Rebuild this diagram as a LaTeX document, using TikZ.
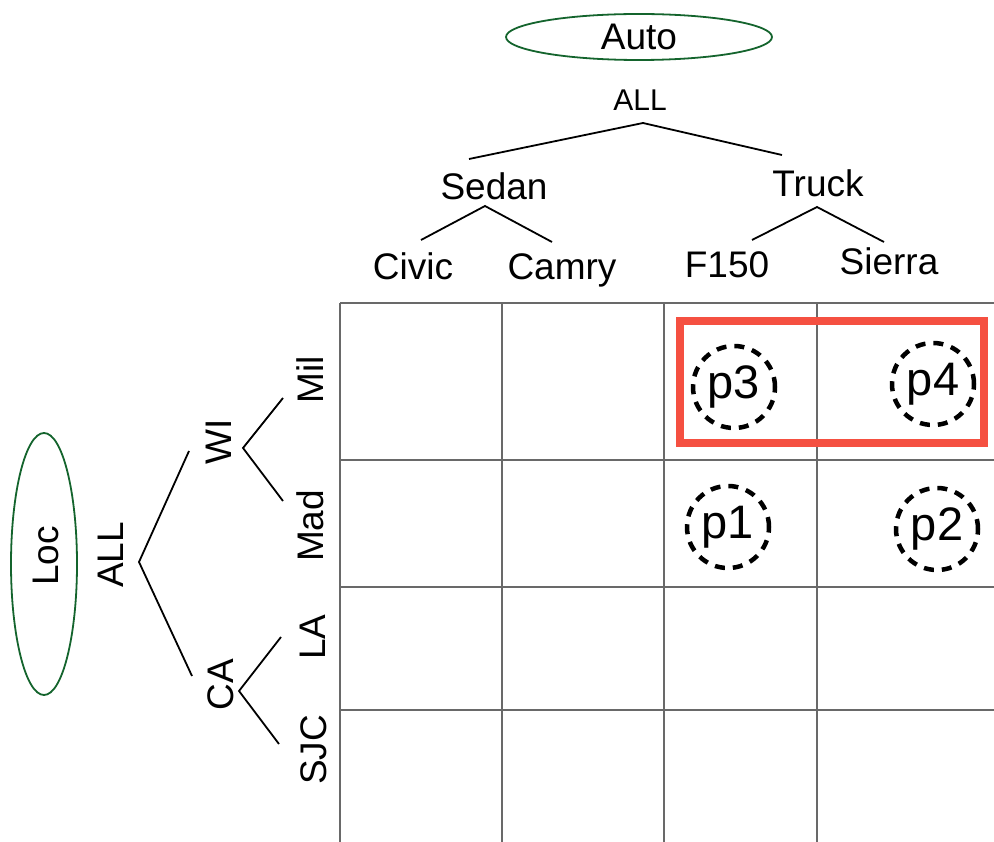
\documentclass[tikz,border=0pt]{standalone}
\usepackage{fontspec}
\setmainfont{Liberation Sans}
\usetikzlibrary{shapes.geometric}
\definecolor{dimgreen}{RGB}{20,100,45}
\definecolor{hlred}{RGB}{245,80,65}
\definecolor{gridgray}{RGB}{105,105,105}
\tikzset{
  lbl/.style={inner sep=0pt, font=\fontsize{37}{40}\selectfont},
  smalllbl/.style={inner sep=0pt, font=\fontsize{30}{34}\selectfont},
  plbl/.style={inner sep=0pt, font=\fontsize{47}{50}\selectfont},
  dimoval/.style={draw=dimgreen, line width=1.8pt, ellipse},
  branch/.style={draw=black, line width=1.8pt},
  gridline/.style={draw=gridgray, line width=2.5pt},
  pcircle/.style={draw=black, circle, line width=4.5pt, dash pattern=on 10pt off 8pt}
}
\begin{document}
\begin{tikzpicture}[x=1pt,y=-1pt]
\useasboundingbox (0,0) rectangle (994,842);
% ---- grid
\coordinate (gv1t) at (340,303); \coordinate (gv1b) at (340,842);
\coordinate (gv2t) at (502,303); \coordinate (gv2b) at (502,842);
\coordinate (gv3t) at (664,303); \coordinate (gv3b) at (664,842);
\coordinate (gv4t) at (817,303); \coordinate (gv4b) at (817,842);
\coordinate (gh1l) at (340,303); \coordinate (gh1r) at (994,303);
\coordinate (gh2l) at (340,460); \coordinate (gh2r) at (994,460);
\coordinate (gh3l) at (340,587); \coordinate (gh3r) at (994,587);
\coordinate (gh4l) at (340,710); \coordinate (gh4r) at (994,710);
\foreach \i in {1,2,3,4} {
  \draw[gridline] (gv\i t) -- (gv\i b);
  \draw[gridline] (gh\i l) -- (gh\i r);
}
% ---- highlight
\draw[draw=hlred, line width=8pt] (680,321) rectangle (984,443);
% ---- points
\node[pcircle, minimum size=82pt, inner sep=0pt] (c3) at (734,387) {};
\node[plbl] (p3) at (734,387) {p3};
\node[pcircle, minimum size=82pt, inner sep=0pt] (c4) at (933,384) {};
\node[plbl] (p4) at (933,384) {p4};
\node[pcircle, minimum size=82pt, inner sep=0pt] (c1) at (728,527) {};
\node[plbl] (p1) at (728,527) {p1};
\node[pcircle, minimum size=82pt, inner sep=0pt] (c2) at (937,529) {};
\node[plbl] (p2) at (937,529) {p2};
% ---- Auto hierarchy
\node[dimoval, minimum width=266pt, minimum height=46pt, inner sep=0pt] (auto) at (639,37) {};
\node[lbl] (autot) at (639,37) {Auto};
\node[smalllbl] (all1) at (640,100) {ALL};
\coordinate (a0) at (643,123);
\coordinate (a1) at (469,159);
\coordinate (a2) at (782,155);
\draw[branch] (a1) -- (a0) -- (a2);
\node[lbl] (sedan) at (494,186) {Sedan};
\node[lbl] (truck) at (818,183) {Truck};
\coordinate (s0) at (485,206); \coordinate (s1) at (421,240); \coordinate (s2) at (552,242);
\draw[branch] (s1) -- (s0) -- (s2);
\coordinate (t0) at (817,207); \coordinate (t1) at (752,240); \coordinate (t2) at (884,242);
\draw[branch] (t1) -- (t0) -- (t2);
\node[lbl, anchor=base] (civic) at (413,280) {Civic};
\node[lbl, anchor=base] (camry) at (562,280) {Camry};
\node[lbl, anchor=base] (f150) at (727,278) {F150};
\node[lbl, anchor=base] (sierra) at (889,275) {Sierra};
% ---- Loc hierarchy
\node[dimoval, minimum width=66pt, minimum height=262pt, inner sep=0pt] (loc) at (44,564) {};
\node[lbl, rotate=90] (loct) at (46,556) {Loc};
\node[lbl, rotate=90, anchor=base] (all2) at (123,555) {ALL};
\coordinate (l0) at (139,562); \coordinate (l1) at (189,451); \coordinate (l2) at (192,676);
\draw[branch] (l1) -- (l0) -- (l2);
\node[lbl, rotate=90, anchor=base] (wi) at (231,442) {WI};
\node[lbl, rotate=90, anchor=base] (ca) at (233,685) {CA};
\coordinate (w0) at (243,448); \coordinate (w1) at (283,398); \coordinate (w2) at (283,501);
\draw[branch] (w1) -- (w0) -- (w2);
\coordinate (k0) at (239,691); \coordinate (k1) at (281,637); \coordinate (k2) at (279,744);
\draw[branch] (k1) -- (k0) -- (k2);
\node[lbl, rotate=90, anchor=base] (mil) at (323,380) {Mil};
\node[lbl, rotate=90, anchor=base] (mad) at (323,526) {Mad};
\node[lbl, rotate=90, anchor=base] (la) at (325,637) {LA};
\node[lbl, rotate=90, anchor=base] (sjc) at (326,750) {SJC};
\end{tikzpicture}
\end{document}
